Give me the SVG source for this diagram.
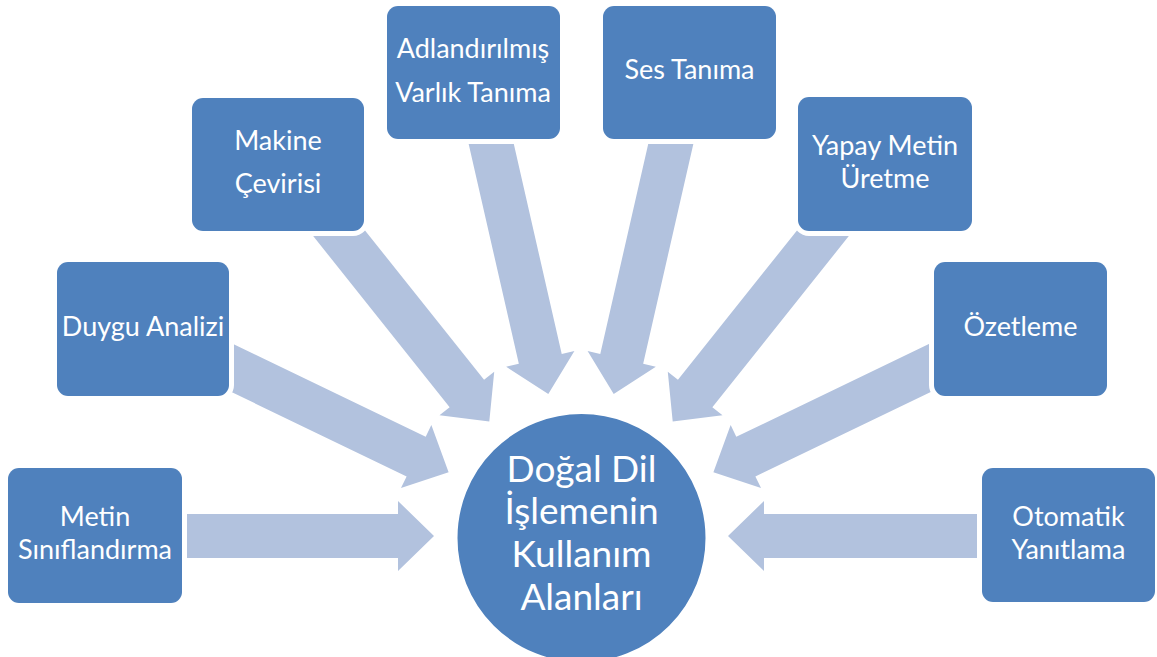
<svg xmlns="http://www.w3.org/2000/svg" xmlns:xlink="http://www.w3.org/1999/xlink" width="1157" height="657" viewBox="0 0 1157 657">
<style>
.arrow{fill:#B2C2DE}
.box{fill:#4F81BD;stroke:#FFFFFF;stroke-width:10;paint-order:stroke}
.hub{fill:#4F81BD;stroke:#FFFFFF;stroke-width:2}
.t{font-family:Lato,"Liberation Sans",sans-serif;font-size:27px;fill:#FFFFFF;text-anchor:middle}
.ct{font-family:Lato,"Liberation Sans",sans-serif;font-size:37px;fill:#FFFFFF;text-anchor:middle}
</style>
<defs>
<polygon id="arr" class="arrow" points="-290,-22 -36,-22 -36,-35 0,0 -36,35 -36,22 -290,22"/>
</defs>
<rect width="1157" height="657" fill="#FFFFFF"/>
<g id="connectors">
<use xlink:href="#arr" href="#arr" transform="translate(434,536) rotate(0)"/>
<use xlink:href="#arr" href="#arr" transform="translate(448.6,472.2) rotate(25.714)"/>
<use xlink:href="#arr" href="#arr" transform="translate(489.3,421.6) rotate(51.429)"/>
<use xlink:href="#arr" href="#arr" transform="translate(548.3,394) rotate(77.143)"/>
<use xlink:href="#arr" href="#arr" transform="translate(613.7,394) rotate(102.857)"/>
<use xlink:href="#arr" href="#arr" transform="translate(672.7,421.6) rotate(128.571)"/>
<use xlink:href="#arr" href="#arr" transform="translate(713.4,472.2) rotate(154.286)"/>
<use xlink:href="#arr" href="#arr" transform="translate(728,536) rotate(180)"/>
</g>
<g id="node-metin">
<rect class="box" x="8" y="468" width="174" height="135" rx="11"/>
<text class="t" x="95" y="526">Metin</text>
<text class="t" x="95" y="559">Sınıflandırma</text>
</g>
<g id="node-duygu">
<rect class="box" x="57" y="262" width="172" height="134" rx="11"/>
<text class="t" x="143" y="336">Duygu Analizi</text>
</g>
<g id="node-makine">
<rect class="box" x="192" y="98" width="172" height="133" rx="11"/>
<text class="t" x="278" y="150">Makine</text>
<text class="t" x="278" y="193">Çevirisi</text>
</g>
<g id="node-adlandirilmis">
<rect class="box" x="387" y="6" width="173" height="133" rx="11"/>
<text class="t" x="473" y="58">Adlandırılmış</text>
<text class="t" x="473" y="102">Varlık Tanıma</text>
</g>
<g id="node-ses">
<rect class="box" x="603" y="6" width="173" height="133" rx="11"/>
<text class="t" x="689.5" y="79">Ses Tanıma</text>
</g>
<g id="node-yapay">
<rect class="box" x="798" y="97" width="174" height="134" rx="11"/>
<text class="t" x="885" y="155">Yapay Metin</text>
<text class="t" x="885" y="188">Üretme</text>
</g>
<g id="node-ozetleme">
<rect class="box" x="934" y="262" width="173" height="134" rx="11"/>
<text class="t" x="1020.5" y="336">Özetleme</text>
</g>
<g id="node-otomatik">
<rect class="box" x="982" y="468" width="173" height="134" rx="11"/>
<text class="t" x="1068.5" y="526">Otomatik</text>
<text class="t" x="1068.5" y="559">Yanıtlama</text>
</g>
<g id="node-hub">
<circle class="hub" cx="581.5" cy="538" r="125"/>
<text class="ct" x="581.5" y="482">Doğal Dil</text>
<text class="ct" x="581.5" y="524">İşlemenin</text>
<text class="ct" x="581.5" y="567">Kullanım</text>
<text class="ct" x="581.5" y="610">Alanları</text>
</g>
</svg>
